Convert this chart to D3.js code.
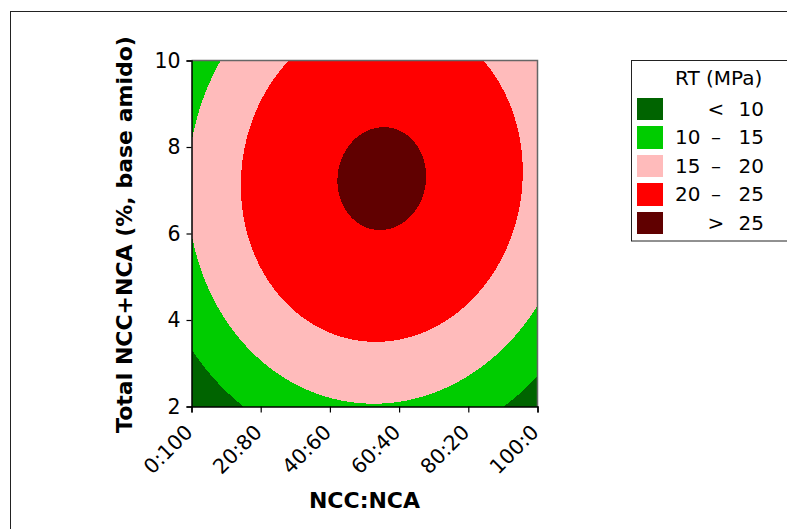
<!DOCTYPE html>
<html>
<head>
<meta charset="utf-8">
<script src="https://cdn.jsdelivr.net/npm/d3@7"></script>
<style>
  html, body { margin: 0; padding: 0; background: #fff; }
  svg { display: block; font-family: "DejaVu Sans", Verdana, sans-serif; }
</style>
</head>
<body>
<svg id="chart" width="787" height="529"></svg>
<script>
// ---- Data ----
const ratioValues = [0, 20, 40, 60, 80, 100];
const ratioTicks = ["0:100", "20:80", "40:60", "60:40", "80:20", "100:0"];
const totalTicks = [2, 4, 6, 8, 10];
const contourLevels = [10, 15, 20, 25];
// fitted response surface for RT (MPa): centre (NCC %, total %) and coefficients
const surfaceCenter = [55, 7.27];
const surfaceTerms = ["peak", "x^2", "y^2", "x*y"];
const surfaceCoefs = [25.55, -0.00335, -0.39, 0.003];
const legendTitle = "RT (MPa)";
const legendLow = ["", "10", "15", "20", ""];
const legendSym = ["<", "\u2013", "\u2013", "\u2013", ">"];
const legendHigh = ["10", "15", "20", "25", "25"];
const bandColors = ["#006400", "#00CC00", "#FFBBBB", "#FF0000", "#600000"];

// ---- Layout ----
const svg = d3.select("#chart");
const L = 191.5, R = 537.5, T = 60.5, B = 406.5;
const x = d3.scaleLinear().domain([0, 100]).range([L, R]);
const y = d3.scaleLinear().domain([2, 10]).range([B, T]);

// outer frame
svg.append("rect").attr("x", 10.5).attr("y", 11.5).attr("width", 900).attr("height", 700)
  .attr("fill", "none").attr("stroke", "#222").attr("stroke-width", 1);

// ---- Surface grid & contours ----
const nx = Math.round(R - L), ny = Math.round(B - T);
const gx = d3.scaleLinear().domain([0, nx]).range([L, R]);
const gy = d3.scaleLinear().domain([0, ny]).range([T, B]);
function rt(xv, yv) {
  const dx = xv - surfaceCenter[0], dy = yv - surfaceCenter[1];
  return surfaceCoefs[0] + surfaceCoefs[1] * dx * dx + surfaceCoefs[2] * dy * dy + surfaceCoefs[3] * dx * dy;
}
const values = new Array(nx * ny);
for (let j = 0; j < ny; j++) {
  const yv = y.invert(gy(j + 0.5));
  for (let i = 0; i < nx; i++) {
    values[j * nx + i] = rt(x.invert(gx(i + 0.5)), yv);
  }
}
const contours = d3.contours().size([nx, ny]).thresholds(contourLevels)(values);
const proj = d3.geoTransform({ point: function (px, py) { this.stream.point(gx(px), gy(py)); } });
const path = d3.geoPath(proj);

const plot = svg.append("g");
plot.append("rect").attr("x", L).attr("y", T).attr("width", R - L).attr("height", B - T)
  .attr("fill", bandColors[0]).attr("shape-rendering", "crispEdges");
plot.selectAll("path.band").data(contours).join("path")
  .attr("class", "band")
  .attr("d", path)
  .attr("fill", (d, i) => bandColors[i + 1])
  .attr("stroke", "none")
  .attr("shape-rendering", "crispEdges");

// top/right frame
svg.append("path").attr("d", `M${L},${T}H${R}V${B}`).attr("fill", "none")
  .attr("stroke", "#666").attr("stroke-width", 1.5);

// ---- Axes ----
const yAxis = svg.append("g").attr("transform", `translate(${L},0)`)
  .call(d3.axisLeft(y).tickValues(totalTicks).tickSize(5).tickPadding(6).tickFormat(d3.format("d")));
yAxis.select(".domain").attr("stroke", "#000").attr("stroke-width", 1.5);
yAxis.selectAll(".tick line").attr("stroke", "#000").attr("stroke-width", 1.2);
yAxis.selectAll("text").attr("font-size", 20.5).attr("fill", "#000")
  .attr("font-family", "DejaVu Sans");

const xAxis = svg.append("g").attr("transform", `translate(0,${B})`)
  .call(d3.axisBottom(x).tickValues(ratioValues).tickSize(6).tickFormat((d, i) => ratioTicks[i]));
xAxis.select(".domain").attr("stroke", "#000").attr("stroke-width", 1.5);
xAxis.selectAll(".tick line").attr("stroke", "#000").attr("stroke-width", 1.2);
xAxis.selectAll("text").attr("font-size", 20.5).attr("fill", "#000")
  .attr("font-family", "DejaVu Sans")
  .attr("x", 0).attr("y", 0).attr("dy", 0)
  .attr("text-anchor", "end")
  .attr("transform", "translate(2,27) rotate(-45)");

// axis titles
svg.append("text").attr("x", (L + R) / 2).attr("y", 508)
  .attr("text-anchor", "middle").attr("font-size", 22).attr("font-weight", "bold")
  .text("NCC:NCA");
svg.append("text").attr("transform", `translate(132,${(T + B) / 2 + 1}) rotate(-90)`)
  .attr("text-anchor", "middle").attr("font-size", 22).attr("font-weight", "bold")
  .text("Total NCC+NCA (%, base amido)");

// ---- Legend ----
const lg = svg.append("g");
lg.append("rect").attr("x", 631.5).attr("y", 60.5).attr("width", 300).attr("height", 180.5)
  .attr("fill", "#fff").attr("stroke", "#222").attr("stroke-width", 1);
lg.append("text").attr("x", 675).attr("y", 85).attr("font-size", 20).text(legendTitle);
const rows = lg.selectAll("g.row").data(bandColors).join("g").attr("class", "row")
  .attr("transform", (d, i) => `translate(0,${97.5 + i * 28.5})`);
rows.append("rect").attr("x", 637).attr("y", 0).attr("width", 26).attr("height", 22.5)
  .attr("fill", d => d).attr("shape-rendering", "crispEdges");
rows.append("text").attr("x", 675).attr("y", 18).attr("font-size", 20)
  .text((d, i) => legendLow[i]);
rows.append("text").attr("x", 716).attr("y", 18).attr("font-size", 20).attr("text-anchor", "middle")
  .text((d, i) => legendSym[i]);
rows.append("text").attr("x", 764).attr("y", 18).attr("font-size", 20).attr("text-anchor", "end")
  .text((d, i) => legendHigh[i]);
</script>
</body>
</html>
